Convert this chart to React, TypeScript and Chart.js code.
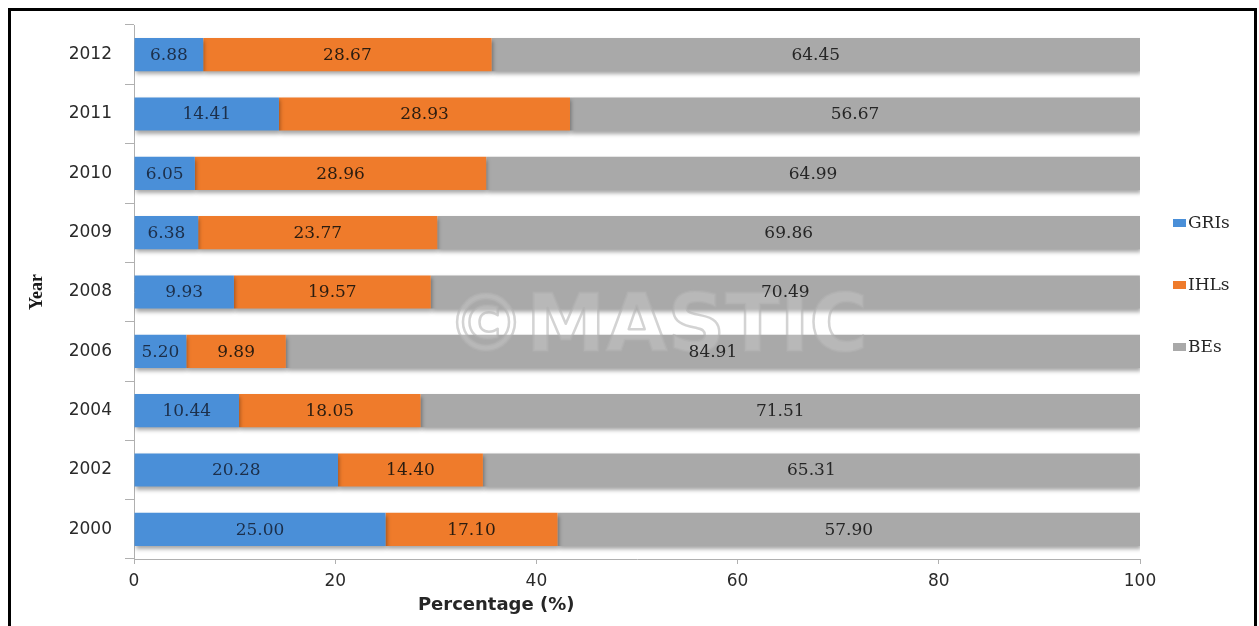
import React, { useEffect, useRef } from "react";
import { Chart, registerables } from "chart.js";

Chart.register(...registerables);

const years = ["2012", "2011", "2010", "2009", "2008", "2006", "2004", "2002", "2000"];
const gris = [6.88, 14.41, 6.05, 6.38, 9.93, 5.2, 10.44, 20.28, 25.0];
const ihls = [28.67, 28.93, 28.96, 23.77, 19.57, 9.89, 18.05, 14.4, 17.1];
const bes = [64.45, 56.67, 64.99, 69.86, 70.49, 84.91, 71.51, 65.31, 57.9];
const seriesNames = ["GRIs", "IHLs", "BEs"];
const seriesColors = ["#4a8fd8", "#ef7b2b", "#a9a9a9"];
const labelColors = ["#1c2f4a", "#2a1c10", "#262626"];
const xTitle = "Percentage (%)";
const yTitle = "Year";
const watermark = "\u00A9MASTIC";

const W = 1259;
const H = 626;

const decorPlugin = {
  id: "decor",
  beforeDatasetsDraw(chart: any) {
    const ctx = chart.ctx;
    ctx.save();
    ctx.shadowColor = "rgba(0,0,0,0.35)";
    ctx.shadowBlur = 4;
    ctx.shadowOffsetX = 1;
    ctx.shadowOffsetY = 3;
  },
  afterDatasetsDraw(chart: any) {
    const ctx = chart.ctx;
    ctx.restore();
    const area = chart.chartArea;

    // watermark
    ctx.save();
    ctx.font = "bold 80px 'DejaVu Sans'";
    ctx.textAlign = "center";
    ctx.textBaseline = "middle";
    const wx = area.left + (area.right - area.left) * 0.52;
    const wy = (area.top + area.bottom) / 2 + 38;
    ctx.lineJoin = "round";
    ctx.fillStyle = "rgba(255,255,255,0.18)";
    ctx.fillText(watermark, wx, wy);
    ctx.strokeStyle = "rgba(175,175,175,0.55)";
    ctx.lineWidth = 2.5;
    ctx.strokeText(watermark, wx, wy);
    ctx.restore();

    // value labels
    ctx.save();
    ctx.font = "17px 'DejaVu Serif'";
    ctx.textAlign = "center";
    ctx.textBaseline = "middle";
    chart.data.datasets.forEach((ds: any, i: number) => {
      const meta = chart.getDatasetMeta(i);
      meta.data.forEach((bar: any, j: number) => {
        const p = bar.getProps(["x", "y", "base"], true);
        const cx = (p.x + p.base) / 2;
        ctx.fillStyle = labelColors[i];
        ctx.fillText(Number(ds.data[j]).toFixed(2), cx, p.y + 1);
      });
    });
    ctx.restore();

    // legend
    ctx.save();
    ctx.font = "17px 'DejaVu Serif'";
    ctx.textAlign = "left";
    ctx.textBaseline = "middle";
    const mid = (area.top + area.bottom) / 2 - 7;
    seriesNames.forEach((name, i) => {
      const ly = mid + (i - 1) * 62;
      ctx.fillStyle = seriesColors[i];
      ctx.fillRect(area.right + 33, ly - 4, 13, 8);
      ctx.fillStyle = "#262626";
      ctx.fillText(name, area.right + 48, ly + 1);
    });
    ctx.restore();

    // x title
    ctx.save();
    ctx.font = "bold 18px 'DejaVu Sans'";
    ctx.textAlign = "center";
    ctx.textBaseline = "middle";
    ctx.fillStyle = "#262626";
    ctx.fillText(xTitle, area.left + (area.right - area.left) * 0.36, area.bottom + 46);
    ctx.restore();
  },
};

export default function App() {
  const ref = useRef<HTMLCanvasElement | null>(null);

  useEffect(() => {
    if (!ref.current) return;
    const chart = new Chart(ref.current, {
      type: "bar",
      data: {
        labels: years,
        datasets: [gris, ihls, bes].map((d, i) => ({
          label: seriesNames[i],
          data: d,
          backgroundColor: seriesColors[i],
          borderWidth: 0,
          barPercentage: 0.56,
          categoryPercentage: 1,
        })),
      },
      options: {
        indexAxis: "y",
        responsive: false,
        animation: false,
        devicePixelRatio: 1,
        layout: { padding: { left: 0, top: 25, right: 119, bottom: 0 } },
        plugins: {
          legend: { display: false },
          tooltip: { enabled: false },
        },
        scales: {
          x: {
            stacked: true,
            min: 0,
            max: 100,
            afterFit: (axis: any) => {
              axis.height = 67;
            },
            ticks: {
              stepSize: 20,
              padding: 7,
              color: "#2a2a2a",
              font: { family: "'DejaVu Sans'", size: 17 },
            },
            grid: {
              drawOnChartArea: false,
              drawTicks: true,
              tickLength: 5,
              color: "#b0b0b0",
            },
            border: { display: true, color: "#b0b0b0" },
          },
          y: {
            stacked: true,
            afterFit: (axis: any) => {
              axis.width = 134;
            },
            ticks: {
              padding: 13,
              color: "#2a2a2a",
              font: { family: "'DejaVu Sans'", size: 17 },
            },
            grid: {
              offset: true,
              drawOnChartArea: false,
              drawTicks: true,
              tickLength: 9,
              color: "#b0b0b0",
            },
            border: { display: true, color: "#b0b0b0" },
            title: {
              display: true,
              text: yTitle,
              color: "#1a1a1a",
              padding: { top: 27, bottom: 0 },
              font: { family: "'Liberation Serif'", size: 18, weight: "bold" },
            },
          },
        },
      },
      plugins: [decorPlugin],
    } as any);
    return () => chart.destroy();
  }, []);

  return (
    <div style={{ position: "fixed", left: 0, top: 0, width: W, height: H, background: "#fff", overflow: "hidden" }}>
      <div
        style={{
          position: "absolute",
          left: 8,
          top: 8,
          width: 1257 - 8,
          height: 640,
          borderTop: "3px solid #000",
          borderLeft: "3px solid #000",
          borderRight: "3px solid #000",
          boxSizing: "border-box",
        }}
      />
      <canvas ref={ref} width={W} height={H} style={{ position: "absolute", left: 0, top: 0, width: W, height: H }} />
    </div>
  );
}
